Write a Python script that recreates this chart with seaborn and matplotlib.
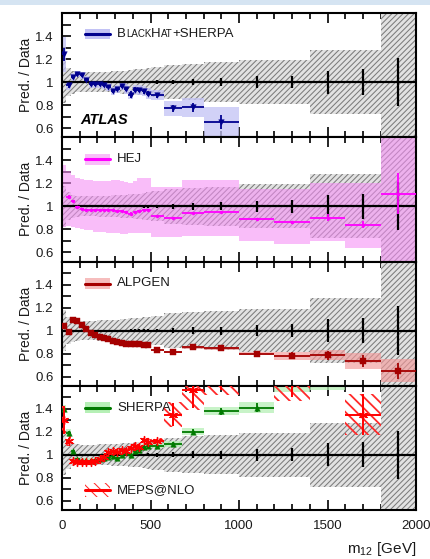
import numpy as np
import matplotlib
matplotlib.use("Agg")
import matplotlib.pyplot as plt
import seaborn as sns
from matplotlib.patches import Rectangle
from matplotlib.lines import Line2D
from matplotlib.offsetbox import TextArea, HPacker, AnnotationBbox

nan = np.nan

# ---------------- data ----------------
bin_edges = [0, 25, 50, 75, 100, 125, 150, 175, 200, 225, 250, 275, 300, 325, 350,
             375, 400, 425, 450, 475, 500, 575, 680, 800, 1000, 1200, 1400, 1600, 1800, 2000]

data_syst = [0.18, 0.12, 0.10, 0.09, 0.085, 0.085, 0.085, 0.085, 0.09, 0.09, 0.09, 0.095, 0.095,
             0.10, 0.10, 0.105, 0.11, 0.11, 0.115, 0.12, 0.13, 0.15, 0.16, 0.17, 0.19, 0.19,
             0.28, 0.28, 1.50]
data_stat = [0.004, 0.004, 0.004, 0.004, 0.004, 0.004, 0.005, 0.005, 0.005, 0.006, 0.006, 0.007,
             0.007, 0.008, 0.008, 0.009, 0.010, 0.010, 0.011, 0.012, 0.015, 0.020, 0.030, 0.035,
             0.050, 0.055, 0.100, 0.110, 0.210]

bh_val = [1.24, 0.97, 1.04, 1.07, 1.06, 1.02, 0.98, 0.98, 0.98, 0.97, 0.96, 0.92, 0.94, 0.965,
          0.94, 0.89, 0.935, 0.93, 0.92, 0.90, 0.885, 0.77, 0.78, 0.655, nan, nan, nan, nan, nan]
bh_err = [0.06, 0.02, 0.015, 0.015, 0.015, 0.015, 0.015, 0.015, 0.015, 0.015, 0.015, 0.015, 0.02,
          0.02, 0.02, 0.03, 0.02, 0.02, 0.02, 0.02, 0.02, 0.03, 0.04, 0.06, nan, nan, nan, nan, nan]
bh_band = [0.15, 0.04, 0.035, 0.03, 0.03, 0.03, 0.03, 0.03, 0.03, 0.03, 0.035, 0.035, 0.035, 0.035,
           0.04, 0.04, 0.04, 0.04, 0.045, 0.045, 0.045, 0.065, 0.08, 0.13, nan, nan, nan, nan, nan]

hej_val = [nan, 1.08, 1.045, 0.99, 0.975, 0.97, 0.97, 0.97, 0.97, 0.965, 0.965, 0.965, 0.96, 0.96,
           0.95, 0.935, 0.95, 0.96, 0.965, 0.97, 0.913, 0.90, 0.94, 0.95, 0.89, 0.86, 0.90, 0.84, 1.11]
hej_err = [nan, 0.015, 0.01, 0.01, 0.01, 0.01, 0.01, 0.01, 0.01, 0.01, 0.01, 0.01, 0.01, 0.01, 0.01,
           0.015, 0.01, 0.01, 0.01, 0.01, 0.01, 0.01, 0.01, 0.01, 0.01, 0.015, 0.03, 0.03, 0.18]
hej_lo = [0.82, 0.83, 0.82, 0.81, 0.80, 0.79, 0.79, 0.78, 0.78, 0.78, 0.77, 0.77, 0.77, 0.76, 0.76,
          0.77, 0.77, 0.77, 0.77, 0.77, 0.73, 0.73, 0.74, 0.74, 0.70, 0.67, 0.70, 0.635, 0.30]
hej_hi = [1.36, 1.31, 1.27, 1.25, 1.24, 1.23, 1.23, 1.22, 1.22, 1.22, 1.22, 1.23, 1.23, 1.22, 1.21,
          1.20, 1.22, 1.25, 1.25, 1.25, 1.17, 1.17, 1.23, 1.23, 1.15, 1.15, 1.20, 1.20, 2.00]

alp_val = [1.04, 0.99, 1.09, 1.08, 1.05, 1.01, 0.98, 0.96, 0.945, 0.935, 0.925, 0.91, 0.90, 0.89,
           0.885, 0.88, 0.885, 0.885, 0.875, 0.875, 0.83, 0.815, 0.855, 0.845, 0.80, 0.78, 0.785,
           0.735, 0.65]
alp_err = [0.02, 0.02, 0.015, 0.01, 0.01, 0.01, 0.01, 0.01, 0.01, 0.01, 0.01, 0.01, 0.01, 0.01,
           0.01, 0.01, 0.01, 0.01, 0.01, 0.01, 0.01, 0.01, 0.012, 0.015, 0.015, 0.03, 0.04, 0.05, 0.07]
alp_band = [0.02, 0.02, 0.015, 0.012, 0.01, 0.01, 0.01, 0.01, 0.01, 0.01, 0.01, 0.01, 0.01, 0.01,
            0.01, 0.01, 0.01, 0.01, 0.01, 0.01, 0.01, 0.01, 0.012, 0.012, 0.015, 0.036, 0.045, 0.07, 0.10]

sh_val = [1.40, 1.19, 1.03, 0.96, 0.95, 0.95, 0.95, 0.955, 0.96, 0.975, 0.98, 0.99, 0.97, 1.00,
          1.02, 1.00, 1.03, 1.04, 1.07, 1.08, 1.08, 1.095, 1.20, 1.38, 1.41, 1.63, 1.66, 1.85, 1.95]
sh_err = [0.02, 0.02, 0.01, 0.01, 0.01, 0.01, 0.01, 0.01, 0.01, 0.01, 0.01, 0.01, 0.01, 0.01, 0.01,
          0.01, 0.01, 0.01, 0.01, 0.01, 0.015, 0.015, 0.02, 0.03, 0.04, 0.05, 0.05, 0.06, 0.08]
sh_band = [0.03, 0.03, 0.02, 0.02, 0.02, 0.02, 0.02, 0.02, 0.02, 0.02, 0.02, 0.02, 0.02, 0.02, 0.02,
           0.02, 0.02, 0.02, 0.02, 0.02, 0.025, 0.025, 0.03, 0.035, 0.05, 0.08, 0.10, 0.10, 0.12]

me_val = [1.30, 1.12, 0.95, 0.94, 0.94, 0.94, 0.94, 0.945, 0.96, 0.98, 1.02, 1.03, 1.02, 1.04,
          1.03, 1.06, 1.08, 1.07, 1.13, 1.11, 1.12, 1.35, 1.56, 1.68, 1.78, 1.62, 1.80, 1.35, nan]
me_err = [0.12, 0.03, 0.015, 0.01, 0.01, 0.01, 0.01, 0.01, 0.015, 0.015, 0.015, 0.015, 0.015, 0.015,
          0.015, 0.02, 0.02, 0.02, 0.02, 0.02, 0.02, 0.10, 0.15, 0.12, 0.12, 0.12, 0.12, 0.18, nan]
me_band = [0.12, 0.04, 0.02, 0.02, 0.02, 0.02, 0.02, 0.02, 0.025, 0.025, 0.025, 0.025, 0.025, 0.025,
           0.025, 0.03, 0.03, 0.03, 0.03, 0.03, 0.03, 0.11, 0.17, 0.16, 0.15, 0.15, 0.15, 0.18, nan]

x_ticks = [0, 500, 1000, 1500, 2000]
y_ticks = [0.6, 0.8, 1.0, 1.2, 1.4]
y_ticklabels = ["0.6", "0.8", "1", "1.2", "1.4"]

# ---------------- style ----------------
sns.set_theme(style="ticks")
plt.rcParams['font.family'] = ['Liberation Sans', 'DejaVu Sans']
plt.rcParams['hatch.linewidth'] = 0.75
plt.rcParams['mathtext.fontset'] = 'custom'
plt.rcParams['mathtext.rm'] = 'Liberation Sans'

edges = np.array(bin_edges, dtype=float)
centers = 0.5 * (edges[:-1] + edges[1:])
halfw = 0.5 * (edges[1:] - edges[:-1])
xs = np.repeat(edges, 2)[1:-1]


def stepify(v):
    return np.repeat(np.asarray(v, dtype=float), 2)


def band(ax, lo, hi, **kw):
    coll = ax.fill_between(xs, stepify(lo), stepify(hi), linewidth=0, **kw)
    return coll


W, H = 430, 559
fig = plt.figure(figsize=(W / 100, H / 100), dpi=100)
fig.add_artist(Rectangle((0, 1 - 5 / H), 1, 5 / H, transform=fig.transFigure,
                         facecolor='#d5e4f2', edgecolor='none'))

top0, bot = 13, 510
ph = (bot - top0) / 4
axes = []
for i in range(4):
    top = top0 + i * ph
    ax = fig.add_axes([62 / W, 1 - (top + ph) / H, 354 / W, ph / H])
    axes.append(ax)

ones = np.ones(len(centers))
dsyst = np.array(data_syst)
txt_col = '#1a1a1a'


def common(ax, last=False):
    # data uncertainty band
    band(ax, ones - dsyst, ones + dsyst, facecolor='#e2e2e2', edgecolor='#7c7c7c',
         hatch='//////', zorder=1)
    ax.errorbar(centers, ones, xerr=halfw, yerr=data_stat, fmt='none', ecolor='black',
                elinewidth=1.6, capsize=0, zorder=3)
    ax.set_xlim(0, 2000)
    ax.set_ylim(0.52, 1.6)
    ax.set_xticks(x_ticks)
    ax.set_xticks(np.arange(0, 2001, 100), minor=True)
    ax.set_yticks(y_ticks)
    ax.set_yticklabels(y_ticklabels)
    ax.set_yticks([0.7, 0.9, 1.1, 1.3, 1.5], minor=True)
    ax.tick_params(axis='both', which='both', direction='in', top=True, right=True,
                   width=1.2, color='black', labelsize=9.5, labelcolor=txt_col)
    ax.tick_params(axis='x', which='major', length=7, pad=7)
    ax.tick_params(axis='x', which='minor', length=4)
    ax.tick_params(axis='y', which='major', length=6.5, pad=6)
    ax.tick_params(axis='y', which='minor', length=6.5)
    if not last:
        ax.tick_params(axis='x', labelbottom=False)
    for s in ax.spines.values():
        s.set_linewidth(1.5)
        s.set_color('black')
    ax.set_ylabel('Pred. / Data', fontsize=10, color=txt_col)
    ax.yaxis.set_label_coords(-0.082, 0.5)
    ax.set_xlabel('')


def legend_glyph(ax, yc, face, line_color, hatch=None, h=0.088, alpha=1.0):
    x0, w = (85 - 62) / 354, 25 / 354
    if hatch is None:
        ax.add_patch(Rectangle((x0, yc - h / 2), w, h, transform=ax.transAxes,
                               facecolor=face, edgecolor='none', alpha=alpha, zorder=6))
    else:
        ax.add_patch(Rectangle((x0, yc - h / 2), w, h, transform=ax.transAxes,
                               facecolor='none', edgecolor=face, hatch=hatch, linewidth=0, zorder=6))
    ax.add_line(Line2D([x0, x0 + w], [yc, yc], transform=ax.transAxes, color=line_color,
                       linewidth=2.2, zorder=7))


def model(ax, val, err, lo, hi, color, bandcolor, marker, s, alpha=0.75):
    band(ax, lo, hi, facecolor=bandcolor, edgecolor='none', alpha=alpha, zorder=2)
    ax.errorbar(centers, val, xerr=halfw, yerr=err, fmt='none', ecolor=color,
                elinewidth=1.3, capsize=0, zorder=4)
    m = ~np.isnan(np.asarray(val, dtype=float))
    sns.scatterplot(x=centers[m], y=np.asarray(val)[m], marker=marker, s=s, color=color,
                    edgecolor=color, linewidth=0.3, ax=ax, zorder=5, legend=False)


yc_top = 1 - 22 / ph

# ---- panel 1: BlackHat+SHERPA ----
ax = axes[0]
common(ax)
bv, bb = np.array(bh_val), np.array(bh_band)
model(ax, bh_val, bh_err, bv - bb, bv + bb, '#00008f', '#c2c2f5', 'v', 16)
legend_glyph(ax, 1 - 21 / ph, '#c2c2f5', '#00008f')
parts = [("B", 9.5), ("LACK", 7), ("H", 9.5), ("AT", 7), ("+SHERPA", 9.5)]
boxes = [TextArea(t, textprops=dict(fontsize=sz, color=txt_col)) for t, sz in parts]
pack = HPacker(children=boxes, align='baseline', pad=0, sep=0)
ab = AnnotationBbox(pack, ((117 - 62) / 354, 1 - 21 / ph), xycoords='axes fraction',
                    box_alignment=(0, 0.5), frameon=False, pad=0)
ax.add_artist(ab)
ax.text((80 - 62) / 354, 1 - (120.5 - 13) / ph, 'ATLAS', transform=ax.transAxes,
        fontsize=10.5, fontweight='bold', fontstyle='italic', va='center', ha='left',
        color='black')

# ---- panel 2: HEJ ----
ax = axes[1]
common(ax)
model(ax, hej_val, hej_err, hej_lo, hej_hi, '#ff00ff', '#f58ef5', 'o', 5, alpha=0.58)
legend_glyph(ax, yc_top, '#f58ef5', '#ff00ff', alpha=0.58)
ax.text((117 - 62) / 354, yc_top, 'HEJ', transform=ax.transAxes, fontsize=9.5,
        va='center', ha='left', color=txt_col)

# ---- panel 3: ALPGEN ----
ax = axes[2]
common(ax)
av, ab_ = np.array(alp_val), np.array(alp_band)
model(ax, alp_val, alp_err, av - ab_, av + ab_, '#a50000', '#f29a9a', 's', 14, alpha=0.65)
legend_glyph(ax, yc_top, '#f29a9a', '#a50000', alpha=0.65)
ax.text((117 - 62) / 354, yc_top, 'ALPGEN', transform=ax.transAxes, fontsize=9.5,
        va='center', ha='left', color=txt_col)

# ---- panel 4: SHERPA / MEPS@NLO ----
ax = axes[3]
common(ax, last=True)
sv, sb = np.array(sh_val), np.array(sh_band)
model(ax, sh_val, sh_err, sv - sb, sv + sb, '#007a00', '#b6f0b6', '^', 16)
mv, mb = np.array(me_val), np.array(me_band)
coll = band(ax, mv - mb, mv + mb, facecolor='none', edgecolor='#ff2a2a', hatch='\\\\\\', zorder=4)
try:
    coll.set_hatch_linewidth(1.3)
except AttributeError:
    pass
ax.errorbar(centers, me_val, xerr=halfw, yerr=me_err, fmt='none', ecolor='#ff0000',
            elinewidth=1.4, capsize=0, zorder=5)
mm = ~np.isnan(mv)
ax.scatter(centers[mm], mv[mm], marker=(6, 2, 0), s=32, color='#ff0000', linewidths=1.0, zorder=6)
legend_glyph(ax, yc_top, '#b6f0b6', '#007a00')
ax.text((117 - 62) / 354, yc_top, 'SHERPA', transform=ax.transAxes, fontsize=9.5,
        va='center', ha='left', color=txt_col)
legend_glyph(ax, 20 / ph, '#ff2a2a', '#ff0000', hatch='\\\\\\', h=0.12)
ax.text((117 - 62) / 354, 20 / ph, 'MEPS@NLO', transform=ax.transAxes, fontsize=9.5,
        va='center', ha='left', color=txt_col)

fig.text(416.5 / W, 1 - 553 / H, r'm$_{\mathregular{12}}$ [GeV]', ha='right', va='baseline',
         fontsize=11, color=txt_col)

fig.savefig('out.png', dpi=100)
